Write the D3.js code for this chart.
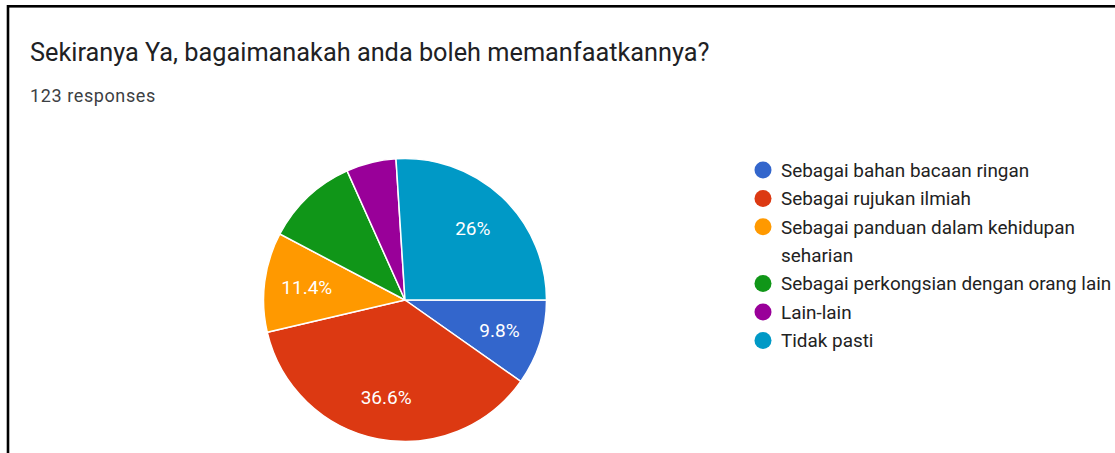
<!DOCTYPE html>
<html>
<head>
<meta charset="utf-8">
<script src="https://cdn.jsdelivr.net/npm/d3@7"></script>
<style>
  html, body { margin: 0; padding: 0; background: #fff; }
  svg { display: block; }
</style>
</head>
<body>
<svg id="chart" width="1115" height="453"></svg>
<script>
const title = "Sekiranya Ya, bagaimanakah anda boleh memanfaatkannya?";
const subtitle = "123 responses";
const categories = [
  "Sebagai bahan bacaan ringan",
  "Sebagai rujukan ilmiah",
  "Sebagai panduan dalam kehidupan seharian",
  "Sebagai perkongsian dengan orang lain",
  "Lain-lain",
  "Tidak pasti"
];
const legendLines = [
  ["Sebagai bahan bacaan ringan"],
  ["Sebagai rujukan ilmiah"],
  ["Sebagai panduan dalam kehidupan", "seharian"],
  ["Sebagai perkongsian dengan orang lain"],
  ["Lain-lain"],
  ["Tidak pasti"]
];
const counts = [12, 45, 14, 13, 7, 32];
const labels = ["9.8%", "36.6%", "11.4%", "", "", "26%"];
const colors = ["#3366cc", "#dc3912", "#ff9900", "#109618", "#990099", "#0099c6"];

const svg = d3.select("#chart");
const font = "Roboto, 'Noto Sans', Arial, sans-serif";

// frame
svg.append("rect").attr("x", 8).attr("y", 6.3).attr("width", 1200).attr("height", 600)
  .attr("fill", "none").attr("stroke", "#000").attr("stroke-width", 2.6);

svg.append("text").attr("x", 30).attr("y", 61).text(title)
  .attr("font-family", font).attr("font-size", 25.3).attr("fill", "#202124");
svg.append("text").attr("x", 30).attr("y", 102).text(subtitle)
  .attr("font-family", font).attr("font-size", 18).attr("letter-spacing", 0.6).attr("fill", "#3c4043");

const cx = 405, cy = 300, R = 141.5;
const pie = d3.pie().sort(null).value(d => d)
  .startAngle(Math.PI / 2).endAngle(Math.PI / 2 + 2 * Math.PI);
const arcs = pie(counts);
const arc = d3.arc().innerRadius(0).outerRadius(R);
const labelArc = d3.arc().innerRadius(R * 0.7).outerRadius(R * 0.7);

const g = svg.append("g").attr("transform", `translate(${cx},${cy})`);
g.selectAll("path").data(arcs).join("path")
  .attr("d", arc)
  .attr("fill", (d, i) => colors[i])
  .attr("stroke", "#fff").attr("stroke-width", 1.5);

g.selectAll("text").data(arcs).join("text")
  .attr("transform", d => `translate(${labelArc.centroid(d)})`)
  .attr("text-anchor", "middle").attr("dy", "0.36em")
  .attr("font-family", font).attr("font-size", 19).attr("fill", "#fff")
  .text((d, i) => labels[i]);

// legend
const lx = 763, ly0 = 170, lineH = 28.4;
const legend = svg.append("g");
let row = 0;
legendLines.forEach((lines, i) => {
  const y = ly0 + row * lineH;
  legend.append("circle").attr("cx", lx).attr("cy", y).attr("r", 8.5).attr("fill", colors[i]);
  lines.forEach((t, j) => {
    legend.append("text").attr("x", 781).attr("y", y + j * lineH).attr("dy", "0.36em")
      .attr("font-family", font).attr("font-size", 18.9).attr("fill", "#222222").text(t);
  });
  row += lines.length;
});
</script>
</body>
</html>
